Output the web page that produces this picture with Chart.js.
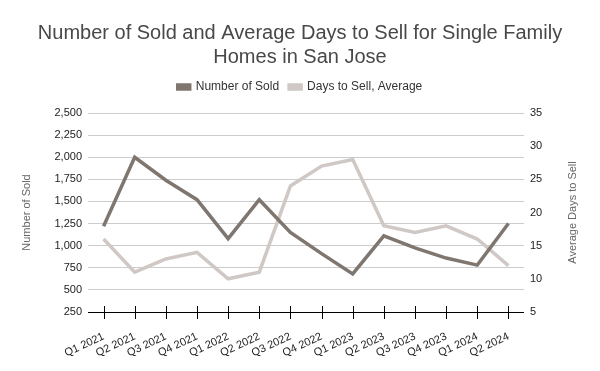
<!DOCTYPE html>
<html>
<head>
<meta charset="utf-8">
<script src="https://cdn.jsdelivr.net/npm/chart.js@4"></script>
<style>
  html, body { margin: 0; padding: 0; background: #fff; }
  #chart { display: block; }
</style>
</head>
<body>
<canvas id="chart" width="600" height="371"></canvas>
<script>
// data
const quarters = ['Q1 2021', 'Q2 2021', 'Q3 2021', 'Q4 2021', 'Q1 2022', 'Q2 2022', 'Q3 2022',
                  'Q4 2022', 'Q1 2023', 'Q2 2023', 'Q3 2023', 'Q4 2023', 'Q1 2024', 'Q2 2024'];
const numberSold = [1220, 2000, 1740, 1520, 1080, 1520, 1150, 910, 680, 1110, 975, 860, 780, 1250];
const daysToSell = [16, 11, 13, 14, 10, 11, 24, 27, 28, 18, 17, 18, 16, 12];
const rightTitle = 'Average Days to Sell';

const soldColor = '#7f766f';
const daysColor = '#cfc8c4';
const fontFamily = '"Liberation Sans", Arial, sans-serif';

// tick marks crossing the bottom axis line, plus the right axis title read bottom-to-top
const axisExtras = {
    id: 'axisExtras',
    afterDraw(chart) {
        const x = chart.scales.x;
        const area = chart.chartArea;
        const y = area.bottom;
        const ctx = chart.ctx;
        ctx.save();
        ctx.strokeStyle = '#000';
        ctx.lineWidth = 1;
        ctx.beginPath();
        ctx.moveTo(area.left, y + 0.5);
        ctx.lineTo(area.right, y + 0.5);
        quarters.forEach((q, i) => {
            const px = Math.round(x.getPixelForValue(i)) + 0.5;
            ctx.moveTo(px, y - 6);
            ctx.lineTo(px, y + 7);
        });
        ctx.stroke();

        const r = chart.scales.y1;
        ctx.translate(r.right - 27, (area.top + area.bottom) / 2);
        ctx.rotate(-Math.PI / 2);
        ctx.fillStyle = '#666';
        ctx.font = '11px ' + fontFamily;
        ctx.textAlign = 'center';
        ctx.textBaseline = 'middle';
        ctx.fillText(rightTitle, 0, 0);
        ctx.restore();
    }
};

new Chart(document.getElementById('chart'), {
    type: 'line',
    data: {
        labels: quarters,
        datasets: [{
            label: 'Number of Sold',
            data: numberSold,
            borderColor: soldColor,
            backgroundColor: soldColor,
            borderWidth: 3.5,
            pointRadius: 0,
            tension: 0,
            yAxisID: 'y'
        }, {
            label: 'Days to Sell, Average',
            data: daysToSell,
            borderColor: daysColor,
            backgroundColor: daysColor,
            borderWidth: 3.5,
            pointRadius: 0,
            tension: 0,
            yAxisID: 'y1'
        }]
    },
    options: {
        responsive: false,
        animation: false,
        layout: { padding: 0 },
        plugins: {
            title: {
                display: true,
                text: ['Number of Sold and Average Days to Sell for Single Family', 'Homes in San Jose'],
                color: '#484848',
                font: { family: fontFamily, size: 20, weight: 'normal', lineHeight: 1.2 },
                padding: { top: 21, bottom: 2 }
            },
            // empty subtitle used as a spacer between legend and plot
            subtitle: {
                display: true,
                text: '',
                weight: 500,
                font: { size: 10, lineHeight: 1 },
                padding: 0
            },
            legend: {
                labels: {
                    color: '#333',
                    font: { family: fontFamily, size: 12 },
                    boxWidth: 12,
                    boxHeight: 4,
                    padding: 10
                }
            },
            tooltip: { enabled: false }
        },
        scales: {
            x: {
                offset: true,
                grid: { display: false },
                border: { display: false },
                ticks: {
                    autoSkip: false,
                    color: '#222',
                    font: { family: fontFamily, size: 11 },
                    maxRotation: 25,
                    minRotation: 25,
                    padding: 10
                },
                afterFit(scale) { scale.height = 59; }
            },
            y: {
                position: 'left',
                min: 250,
                max: 2500,
                ticks: {
                    stepSize: 250,
                    color: '#222',
                    font: { family: fontFamily, size: 11 },
                    padding: 6,
                    callback: v => v.toLocaleString('en-US')
                },
                grid: { color: '#cccccc', drawTicks: false },
                border: { display: false },
                title: {
                    display: true,
                    text: 'Number of Sold',
                    color: '#666',
                    font: { family: fontFamily, size: 11 },
                    padding: { top: 20, bottom: 0 }
                },
                afterFit(scale) { scale.width = 88; }
            },
            y1: {
                position: 'right',
                min: 5,
                max: 35,
                ticks: {
                    stepSize: 5,
                    color: '#222',
                    font: { family: fontFamily, size: 11 },
                    padding: 6
                },
                grid: { drawOnChartArea: false, drawTicks: false },
                border: { display: false },
                afterFit(scale) { scale.width = 76; }
            }
        }
    },
    plugins: [axisExtras]
});
</script>
</body>
</html>
